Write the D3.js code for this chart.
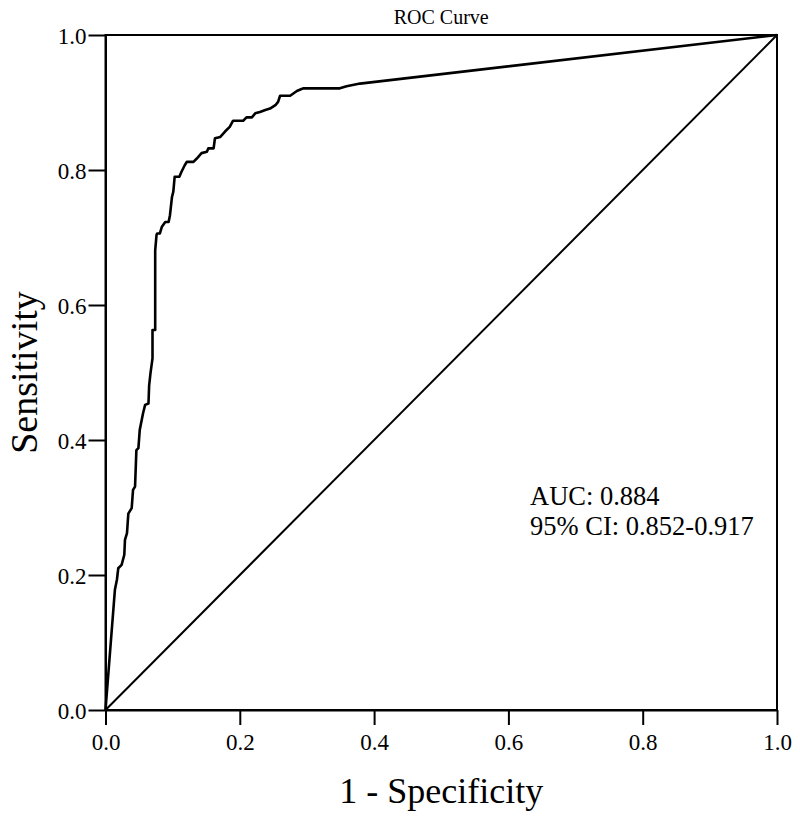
<!DOCTYPE html>
<html>
<head>
<meta charset="utf-8">
<script src="https://cdn.jsdelivr.net/npm/d3@7"></script>
<style>
  html, body { margin: 0; padding: 0; background: #fff; }
  svg { display: block; }
  text { font-family: "Liberation Serif", "Times New Roman", serif; fill: #000; }
</style>
</head>
<body>
<svg id="chart" width="800" height="818"></svg>
<script>
// ---- data ----
const fpr = [0.000, 0.014, 0.017, 0.019, 0.024, 0.028, 0.029, 0.032, 0.034, 0.039, 0.041, 0.044, 0.046, 0.049, 0.051, 0.054, 0.056, 0.059, 0.064, 0.065, 0.067, 0.070, 0.070, 0.074, 0.074, 0.076, 0.077, 0.081, 0.084, 0.089, 0.094, 0.096, 0.099, 0.101, 0.103, 0.110, 0.113, 0.118, 0.121, 0.131, 0.136, 0.143, 0.151, 0.153, 0.161, 0.163, 0.171, 0.178, 0.185, 0.190, 0.205, 0.210, 0.218, 0.223, 0.230, 0.238, 0.245, 0.253, 0.257, 0.260, 0.275, 0.285, 0.292, 0.295, 0.349, 0.359, 0.379, 1.000];
const tpr = [0.000, 0.178, 0.193, 0.210, 0.215, 0.230, 0.252, 0.262, 0.291, 0.299, 0.326, 0.331, 0.385, 0.388, 0.415, 0.430, 0.440, 0.452, 0.454, 0.481, 0.499, 0.521, 0.563, 0.563, 0.681, 0.704, 0.706, 0.706, 0.716, 0.723, 0.723, 0.733, 0.760, 0.768, 0.790, 0.790, 0.797, 0.807, 0.812, 0.812, 0.817, 0.825, 0.827, 0.832, 0.832, 0.847, 0.849, 0.857, 0.864, 0.873, 0.873, 0.878, 0.878, 0.884, 0.886, 0.889, 0.891, 0.896, 0.901, 0.910, 0.910, 0.917, 0.920, 0.921, 0.921, 0.924, 0.928, 1.000];
const tickValues = [0.0, 0.2, 0.4, 0.6, 0.8, 1.0];
const titleText = "ROC Curve";
const xLabel = "1 - Specificity";
const yLabel = "Sensitivity";
const annotations = ["AUC: 0.884", "95% CI: 0.852-0.917"];

// ---- layout ----
const svg = d3.select("#chart");
const mLeft = 105.5, mRight = 777, mTop = 35, mBottom = 710;
const x = d3.scaleLinear().domain([0, 1]).range([mLeft, mRight]);
const y = d3.scaleLinear().domain([0, 1]).range([mBottom, mTop]);

// frame (top & right)
svg.append("rect")
  .attr("x", mLeft).attr("y", mTop)
  .attr("width", mRight - mLeft).attr("height", mBottom - mTop)
  .attr("fill", "none").attr("stroke", "#000").attr("stroke-width", 2);

// axes
const xAxis = d3.axisBottom(x).tickValues(tickValues).tickFormat(d3.format(".1f")).tickSize(15).tickSizeOuter(0);
const yAxis = d3.axisLeft(y).tickValues(tickValues).tickFormat(d3.format(".1f")).tickSize(17).tickSizeOuter(0);

const gx = svg.append("g").attr("transform", `translate(0,${mBottom})`).call(xAxis);
const gy = svg.append("g").attr("transform", `translate(${mLeft},0)`).call(yAxis);
[gx, gy].forEach(g => {
  g.select(".domain").attr("stroke", "#000").attr("stroke-width", 2);
  g.selectAll(".tick line").attr("stroke", "#000").attr("stroke-width", 2);
  g.selectAll(".tick text")
    .style("font-family", '"Liberation Serif", "Times New Roman", serif')
    .style("font-size", "23px").attr("fill", "#000");
});
gx.selectAll(".tick text").attr("dy", "0").attr("y", 40);
gy.selectAll(".tick text").attr("x", -19).attr("dy", "0.35em");

// diagonal reference
svg.append("line")
  .attr("x1", x(0)).attr("y1", y(0)).attr("x2", x(1)).attr("y2", y(1))
  .attr("stroke", "#000").attr("stroke-width", 2);

// ROC curve
const line = d3.line().x((d, i) => x(fpr[i])).y((d, i) => y(tpr[i]));
svg.append("path")
  .datum(fpr)
  .attr("d", line)
  .attr("fill", "none").attr("stroke", "#000").attr("stroke-width", 2.6)
  .attr("stroke-linejoin", "round");

// title
svg.append("text")
  .attr("x", (mLeft + mRight) / 2).attr("y", 24)
  .attr("text-anchor", "middle")
  .style("font-size", "20px")
  .text(titleText);

// axis labels
svg.append("text")
  .attr("x", (mLeft + mRight) / 2).attr("y", 803)
  .attr("text-anchor", "middle")
  .style("font-size", "36px")
  .text(xLabel);

svg.append("text")
  .attr("transform", `translate(37,${(mTop + mBottom) / 2}) rotate(-90)`)
  .attr("text-anchor", "middle")
  .style("font-size", "38px")
  .text(yLabel);

// annotations
annotations.forEach((t, i) => {
  svg.append("text")
    .attr("x", 530).attr("y", 505 + i * 30)
    .style("font-size", "26.5px")
    .text(t);
});
</script>
</body>
</html>
